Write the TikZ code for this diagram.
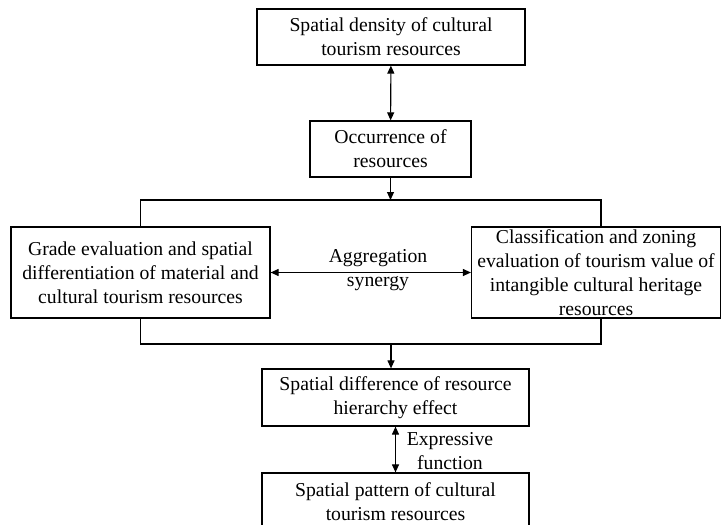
\documentclass[tikz,border=0pt]{standalone}
\usepackage{fontspec}
\setmainfont{Liberation Serif}
\usetikzlibrary{positioning,calc,arrows.meta}

\begin{document}
\begin{tikzpicture}[x=0.5pt,y=-0.5pt,
   box/.style={draw,line width=0.6pt,align=center,inner sep=0pt,
     font=\fontsize{9.85}{12}\selectfont},
   lbl/.style={align=center,inner sep=0pt,font=\fontsize{9.85}{12}\selectfont},
   link/.style={line width=0.55pt},
   dbl/.style={line width=0.55pt,{Triangle[length=4pt,width=3.5pt]}-{Triangle[length=4pt,width=3.5pt]}},
   one/.style={line width=0.55pt,-{Triangle[length=4pt,width=3.5pt]}}]
\useasboundingbox (0,0) rectangle (721,524);
%% ---- upper part ----
\node[box,minimum width=134pt,minimum height=28pt] (dens) at (391,37)
  {Spatial density of cultural\\tourism resources};
\node[box,minimum width=80.5pt,minimum height=28pt] (occ) at (390.5,149)
  {Occurrence of\\resources};
\draw[dbl] (dens) -- (occ);

%% ---- the two evaluations ----
\node[box,minimum width=129.5pt,minimum height=45.5pt] (grade) at (140.5,272.5)
  {Grade evaluation and spatial\\differentiation of material and\\cultural tourism resources};
\node[box,minimum width=124.5pt,minimum height=45.5pt] (zone) at (596,272.5)
  {Classification and zoning\\evaluation of tourism value of\\intangible cultural heritage\\resources};
\draw[dbl] (grade) -- (zone);
\node[lbl] (aggr) at (378,270) {Aggregation\\synergy};
% brackets round both boxes
\coordinate (topbar) at (391,200);
\coordinate (botbar) at (391,344);
\draw[link] (grade.north) |- (topbar) -| ([xshift=2.5pt]zone.north);
\draw[link] (grade.south) |- (botbar) -| ([xshift=2.5pt]zone.south);
\draw[one] (occ.south) -- (occ.south |- topbar);

%% ---- lower part ----
\node[box,minimum width=133.5pt,minimum height=28.5pt] (diff) at (395.5,397.5)
  {Spatial difference of resource\\hierarchy effect};
\node[box,minimum width=133.5pt,minimum height=28.5pt] (patt) at (395.5,501.5)
  {Spatial pattern of cultural\\tourism resources};
\draw[one] (botbar) -- (botbar |- diff.north);
\draw[dbl] (diff) -- (patt);
\node[lbl] (expr) at (450,451) {Expressive\\function};
\end{tikzpicture}
\end{document}
